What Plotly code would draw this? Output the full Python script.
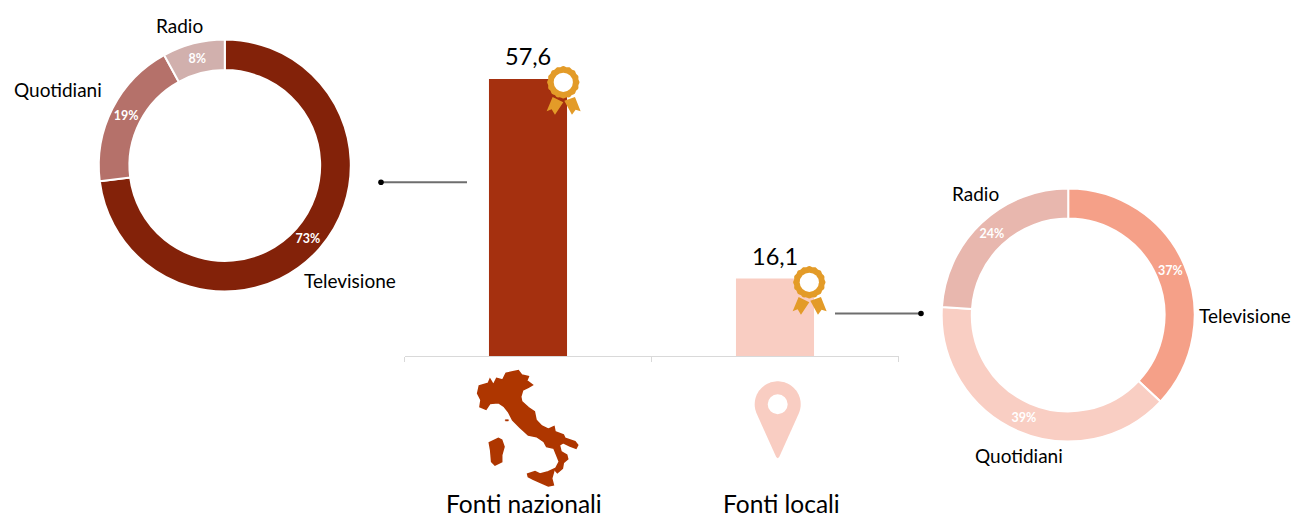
import numpy as np
import plotly.graph_objects as go

W, H = 1293, 518
FONT = "Lato"

# ---- data
bar_categories = ["Fonti nazionali", "Fonti locali"]
bar_values = [57.6, 16.1]
bar_colors = ["#A5300F", "#F9CDC2"]

pie_labels = ["Televisione", "Quotidiani", "Radio"]
national_values = [73, 19, 8]
national_colors = ["#832209", "#B5716A", "#D1B0AD"]
local_values = [37, 39, 24]
local_colors = ["#F5A088", "#F9CEC3", "#E8B7AE"]


def px(x):
    return x / W


def py(y):
    return 1 - y / H


def poly(points):
    return "M" + " L".join(f"{px(x):.5f},{py(y):.5f}" for x, y in points) + " Z"


def zoomed(points, ox, oy):
    return [(ox + x / 3, oy + y / 3) for x, y in points]


fig = go.Figure()

# ---- doughnuts
def add_pie(values, colors, cx, cy, r, hole):
    fig.add_trace(go.Pie(
        labels=pie_labels, values=values, sort=False, direction="clockwise", rotation=0,
        hole=hole, marker=dict(colors=colors, line=dict(color="white", width=2)),
        textinfo="percent", textposition="inside", insidetextorientation="horizontal",
        textfont=dict(family=FONT, size=12.5, color="white", weight="bold"),
        domain=dict(x=[px(cx - r), px(cx + r)], y=[py(cy + r), py(cy - r)]),
        showlegend=False, hoverinfo="label+percent",
    ))


add_pie(national_values, national_colors, 224.8, 165.5, 126, 0.757)
add_pie(local_values, local_colors, 1068.2, 315, 126.5, 0.762)

# ---- bars
fig.add_trace(go.Bar(
    x=bar_categories, y=bar_values, marker=dict(color=bar_colors, line_width=0),
    width=0.316, showlegend=False, hoverinfo="x+y",
))
fig.update_layout(
    width=W, height=H, margin=dict(l=0, r=0, t=0, b=0, pad=0),
    paper_bgcolor="white", plot_bgcolor="white", separators=", ",
    font=dict(family=FONT, color="black"), showlegend=False,
    xaxis=dict(domain=[px(404.5), px(898.5)], type="category", showgrid=False, zeroline=False,
               showline=True, linecolor="#D9D9D9", linewidth=1.2, ticks="outside",
               tickson="boundaries", ticklen=5, tickcolor="#D9D9D9", tickwidth=1,
               showticklabels=False, fixedrange=True, anchor="y"),
    yaxis=dict(domain=[py(356), py(40)], range=[0, 316 / (277 / 57.6)], visible=False,
               fixedrange=True, anchor="x"),
)

annotations = []
for c, v in zip(bar_categories, bar_values):
    annotations.append(dict(x=c, y=v, xref="x", yref="y", text=f"{v:.1f}".replace(".", ","),
                            showarrow=False, yanchor="bottom", yshift=7,
                            font=dict(family=FONT, size=23.5, color="black")))

text_items = [
    ("Radio", 179, 25, 19), ("Quotidiani", 57.5, 90, 19), ("Televisione", 350, 280, 19),
    ("Radio", 975, 194, 19), ("Televisione", 1245, 315, 19), ("Quotidiani", 1019, 455, 19),
    (bar_categories[0], 524, 503.5, 24.5), (bar_categories[1], 781, 503, 24.5),
]
for t, x, y, s in text_items:
    annotations.append(dict(x=px(x), y=py(y), xref="paper", yref="paper", text=t, showarrow=False,
                            xanchor="center", yanchor="middle",
                            font=dict(family=FONT, size=s, color="black")))
fig.update_layout(annotations=annotations)

# ---- decorative icons
shapes = []


def add_path(path, color, outline=0):
    shapes.append(dict(type="path", xref="paper", yref="paper", path=path,
                       fillcolor=color, line=dict(width=outline, color=color), layer="above"))


def circle(cx, cy, r, color):
    shapes.append(dict(type="circle", xref="paper", yref="paper",
                       x0=px(cx - r), x1=px(cx + r), y0=py(cy + r), y1=py(cy - r),
                       fillcolor=color, line=dict(width=0), layer="above"))


GOLD = "#E39B28"


def rosette(cx, cy):
    rib_l = [(-32, 44), (0, 60), (-25, 97), (-35, 81), (-50, 87)]
    rib_r = [(3, 55), (35, 44), (52, 87), (37, 82), (26, 97)]
    for rib in (rib_l, rib_r):
        add_path(poly([(cx + a / 3, cy + b / 3) for a, b in rib]), GOLD)
    t = np.linspace(0, 2 * np.pi, 97)[:-1]
    r = 15.8 + 0.4 * np.cos(16 * t)
    add_path(poly(list(zip(cx + r * np.cos(t), cy + r * np.sin(t)))), GOLD)
    circle(cx, cy, 9.6, "white")


rosette(563.3, 82.3)
rosette(809.3, 282.3)

# Italy
ITALY = "#AE3600"
mainland = [(318, 100), (355, 92), (365, 105), (385, 110), (380, 122), (397, 135), (385, 142), (368, 150),
            (362, 170), (365, 185), (385, 203), (403, 215), (408, 240), (425, 258), (445, 268), (462, 260),
            (465, 275), (490, 285), (495, 295), (525, 305), (533, 315), (528, 325), (510, 318), (490, 308),
            (478, 315), (483, 335), (500, 345), (503, 357), (490, 368), (487, 385), (472, 398), (465, 390),
            (478, 365), (470, 345), (462, 325), (440, 320), (432, 305), (410, 290), (385, 285), (360, 262),
            (338, 240), (325, 215), (313, 200), (295, 188), (270, 190), (258, 208), (240, 200), (243, 180),
            (233, 160), (238, 138), (265, 130), (270, 118), (280, 135), (290, 115), (308, 120)]
sardinia = [(268, 308), (295, 295), (305, 300), (312, 320), (305, 345), (305, 365), (285, 375), (275, 365), (272, 330)]
elba = [(316, 239), (325, 239), (325, 243), (316, 243)]
add_path(poly(zoomed(mainland, 400, 340)), ITALY, 1.6)
add_path(poly(zoomed(sardinia, 400, 340)), ITALY, 1.6)
add_path(poly(zoomed(elba, 400, 340)), ITALY, 0.5)
sicily = [(53, 72), (75, 65), (90, 72), (115, 65), (133, 57), (125, 85), (130, 105), (115, 108), (90, 97), (70, 88), (55, 80)]
add_path(poly(zoomed(sicily, 510, 450)), ITALY, 1.6)

# Map pin
pc_x, pc_y, pr = 777.7, 404.3, 23
t = np.linspace(np.radians(-25), np.radians(205), 60)
pin = [(pc_x + pr * np.cos(a), pc_y - pr * np.sin(a)) for a in t] + [(pc_x - 1.5, 457), (pc_x, 458.3), (pc_x + 1.5, 457)]
add_path(poly(pin), "#F9CDC2")
circle(pc_x, pc_y, 10, "white")

# Connectors
for x0, x1, y, dot in [(381, 467, 182.3, 381), (835, 921, 313.5, 921)]:
    shapes.append(dict(type="line", xref="paper", yref="paper", x0=px(x0), x1=px(x1), y0=py(y), y1=py(y),
                       line=dict(color="#6E6E6E", width=2), layer="above"))
    circle(dot, y, 2.8, "black")

fig.update_layout(shapes=shapes)

fig.write_html("out.html", config={"displayModeBar": False},
               post_script="document.body.style.margin='0';document.body.style.overflow='hidden';")
